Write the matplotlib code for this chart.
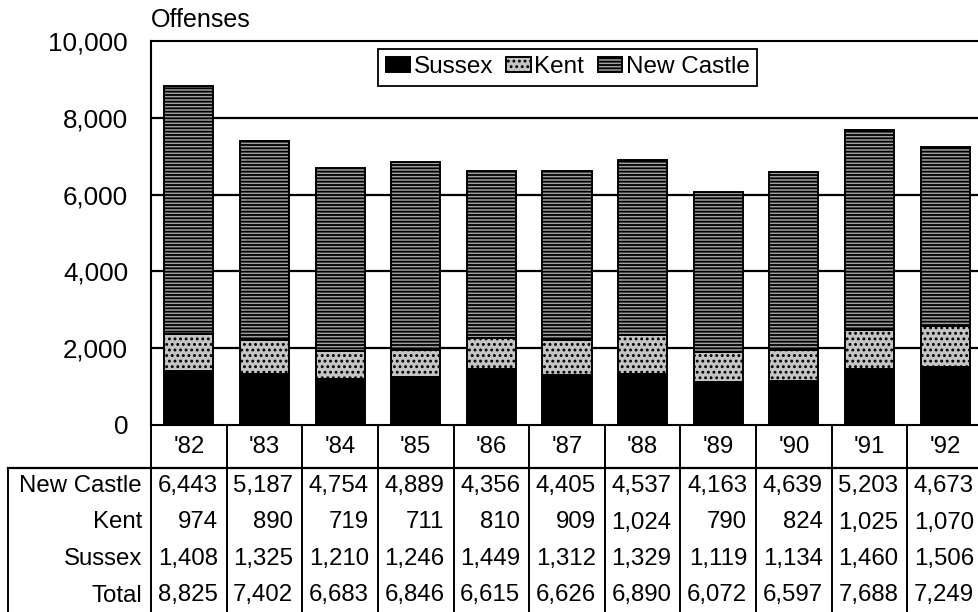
import matplotlib
matplotlib.use("Agg")
import matplotlib.pyplot as plt
import numpy as np

years = ["'82", "'83", "'84", "'85", "'86", "'87", "'88", "'89", "'90", "'91", "'92"]
new_castle = [6443, 5187, 4754, 4889, 4356, 4405, 4537, 4163, 4639, 5203, 4673]
kent = [974, 890, 719, 711, 810, 909, 1024, 790, 824, 1025, 1070]
sussex = [1408, 1325, 1210, 1246, 1449, 1312, 1329, 1119, 1134, 1460, 1506]
yticks = [0, 2000, 4000, 6000, 8000, 10000]

plt.rcParams['font.family'] = ['Liberation Sans', 'DejaVu Sans']
plt.rcParams['hatch.linewidth'] = 1.3

W, H = 979, 612
fig = plt.figure(figsize=(W / 100, H / 100), dpi=100)
L, R, T, B = 151, 983, 41, 425
ax = fig.add_axes([L / W, (H - B) / H, (R - L) / W, (B - T) / H])

x = np.arange(len(years))
ns = np.array(new_castle)
ks = np.array(kent)
ss = np.array(sussex)
tot = ns + ks + ss

bw = 0.65
lw = 1.4
ax.bar(x, ss, bw, color='black', edgecolor='black', linewidth=lw, label='Sussex', zorder=3)
ax.bar(x, ks, bw, bottom=ss, facecolor='#c4c4c4', edgecolor='black', hatch='...',
       linewidth=lw, label='Kent', zorder=3)
ax.bar(x, ns, bw, bottom=ss + ks, facecolor='#a0a0a0', edgecolor='black', hatch='-----',
       linewidth=lw, label='New Castle', zorder=3)

ax.set_xlim(-0.5, len(years) - 0.5)
ax.set_ylim(0, 10000)
ax.set_yticks(yticks)
ax.set_yticklabels([f"{v:,}" for v in yticks], fontsize=18.7)
ax.tick_params(axis='y', length=0, pad=16.5)
for yv in yticks[1:-1]:
    ax.axhline(yv, color='black', linewidth=1.6, zorder=1)
for sp in ax.spines.values():
    sp.set_linewidth(1.5)
    sp.set_color('black')

ax.set_xticks(x)
ax.set_xticklabels(years, fontsize=17.3)
ax.tick_params(axis='x', length=0, pad=15.5)
for lab in ax.get_xticklabels():
    lab.set_va('center')

ax.text(0.0, (B - 20) / (B - T), 'Offenses', transform=ax.transAxes, ha='left',
        va='center', fontsize=18)

leg = ax.legend(loc='upper center', bbox_to_anchor=((567.5 - L) / (R - L), (B - 49) / (B - T)),
                ncol=3, fontsize=17.5, frameon=True, fancybox=False, shadow=False,
                borderaxespad=0, handlelength=1.0, handleheight=0.6, handletextpad=0.15,
                columnspacing=0.55, borderpad=0.3)
leg.get_frame().set_edgecolor('black')
leg.get_frame().set_linewidth(1.3)
leg.get_frame().set_alpha(1)

# table
axh = B - T
def fy(py):
    return (B - py) / axh
def fx(px):
    return (px - L) / (R - L)

xt = ax.get_xaxis_transform()
tlw = 1.4
for b in np.arange(-0.5, len(years), 1.0):
    ax.plot([b, b], [0, fy(H + 5)], transform=xt, color='black', lw=tlw, clip_on=False)
ax.plot([fx(8), fx(8)], [fy(468), fy(H + 5)], transform=ax.transAxes, color='black',
        lw=tlw, clip_on=False)
ax.plot([fx(8), 1.0], [fy(468), fy(468)], transform=ax.transAxes, color='black',
        lw=1.6, clip_on=False)

row_names = ['New Castle', 'Kent', 'Sussex', 'Total']
row_vals = [ns, ks, ss, tot]
row_centers = [486, 522.5, 559, 595.5]
fs_tab = 17.3
for name, vals, cy in zip(row_names, row_vals, row_centers):
    ax.text(fx(L - 9), fy(cy), name, transform=ax.transAxes, ha='right', va='center',
            fontsize=fs_tab, clip_on=False)
    for i, v in enumerate(vals):
        ax.annotate(f"{v:,}", xy=(i + 0.5, fy(cy)), xycoords=xt, xytext=(-9, 0),
                    textcoords='offset pixels', ha='right', va='center', fontsize=fs_tab,
                    annotation_clip=False)

fig.savefig('out.png', dpi=100)
